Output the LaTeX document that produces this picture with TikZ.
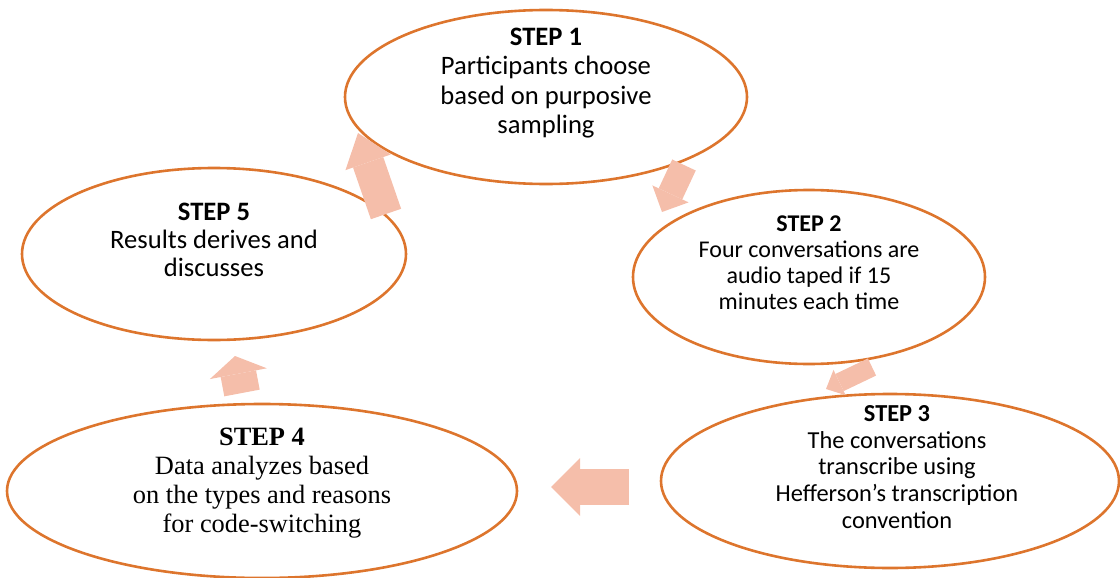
\documentclass[tikz,border=0pt]{standalone}
\usepackage{fontspec}
\setmainfont{Carlito}
\newfontfamily\timesfont{Liberation Serif}
\usetikzlibrary{arrows.meta,shapes.geometric}
\definecolor{rust}{RGB}{221,117,45}
\definecolor{blush}{RGB}{245,190,170}
\tikzset{
  stage/.style={ellipse,draw=rust,line width=1.3pt,inner sep=0pt},
  % font size, line distance
  steptext/.style 2 args={align=center,inner sep=0pt,font=\fontsize{#1}{#2}\selectfont},
  serif text/.style={align=center,inner sep=0pt,font=\timesfont\fontsize{13.2}{14.4}\selectfont},
  % block arrow: shaft width, head width, head length
  cycle arrow/.style n args={3}{draw=blush,line width=#1,
    -{Triangle[width=#2,length=#3,line width=0pt]}},
}
\begin{document}
\begin{tikzpicture}[x=0.5pt,y=-0.5pt]
  \useasboundingbox (0,0) rectangle (1120,578);
  % the five stages
  \node[stage,minimum width=201pt,minimum height=87pt] (s1) at (546,97) {};
  \node[stage,minimum width=176pt,minimum height=87pt] (s2) at (809,277) {};
  \node[stage,minimum width=229pt,minimum height=87pt] (s3) at (890,481) {};
  \node[stage,minimum width=255pt,minimum height=87pt] (s4) at (262,491) {};
  \node[stage,minimum width=192pt,minimum height=86pt] (s5) at (214,254) {};
  \node[steptext={13.3}{14.65}] (t1) at ([yshift=7pt]s1.center) {\textbf{STEP 1}\\Participants choose\\based on purposive\\sampling};
  \node[steptext={12}{13}] (t2) at ([yshift=7pt]s2.center) {\textbf{STEP 2}\\Four conversations are\\audio taped if 15\\minutes each time};
  \node[steptext={12.2}{13.4}] (t3) at ([xshift=3.5pt,yshift=7pt]s3.center) {\textbf{STEP 3}\\The conversations\\transcribe using\\Hefferson’s transcription\\convention};
  \node[serif text] (t4) at ([yshift=4pt]s4.center) {\textbf{STEP 4}\\Data analyzes based\\on the types and reasons\\for code-switching};
  \node[steptext={13.3}{14}] (t5) at ([yshift=7pt]s5.center) {\textbf{STEP 5}\\Results derives and\\discusses};
  % arrow ends
  \coordinate (a1s) at (386,214); \coordinate (a1e) at (358,133);
  \coordinate (a2s) at (684,165); \coordinate (a2e) at (662,212);
  \coordinate (a3s) at (872,367); \coordinate (a3e) at (826,389);
  \coordinate (a4s) at (629,487); \coordinate (a4e) at (551,487);
  \coordinate (a5s) at (242,393); \coordinate (a5e) at (235,356);
  \draw[cycle arrow={16pt}{24pt}{15.5pt}] (a1s) -- (a1e);
  \draw[cycle arrow={13pt}{20pt}{10pt}] (a2s) -- (a2e);
  \draw[cycle arrow={9.5pt}{14pt}{7.5pt}] (a3s) -- (a3e);
  \draw[cycle arrow={18pt}{29pt}{14.5pt}] (a4s) -- (a4e);
  \draw[cycle arrow={18pt}{29pt}{9pt}] (a5s) -- (a5e);
\end{tikzpicture}
\end{document}
